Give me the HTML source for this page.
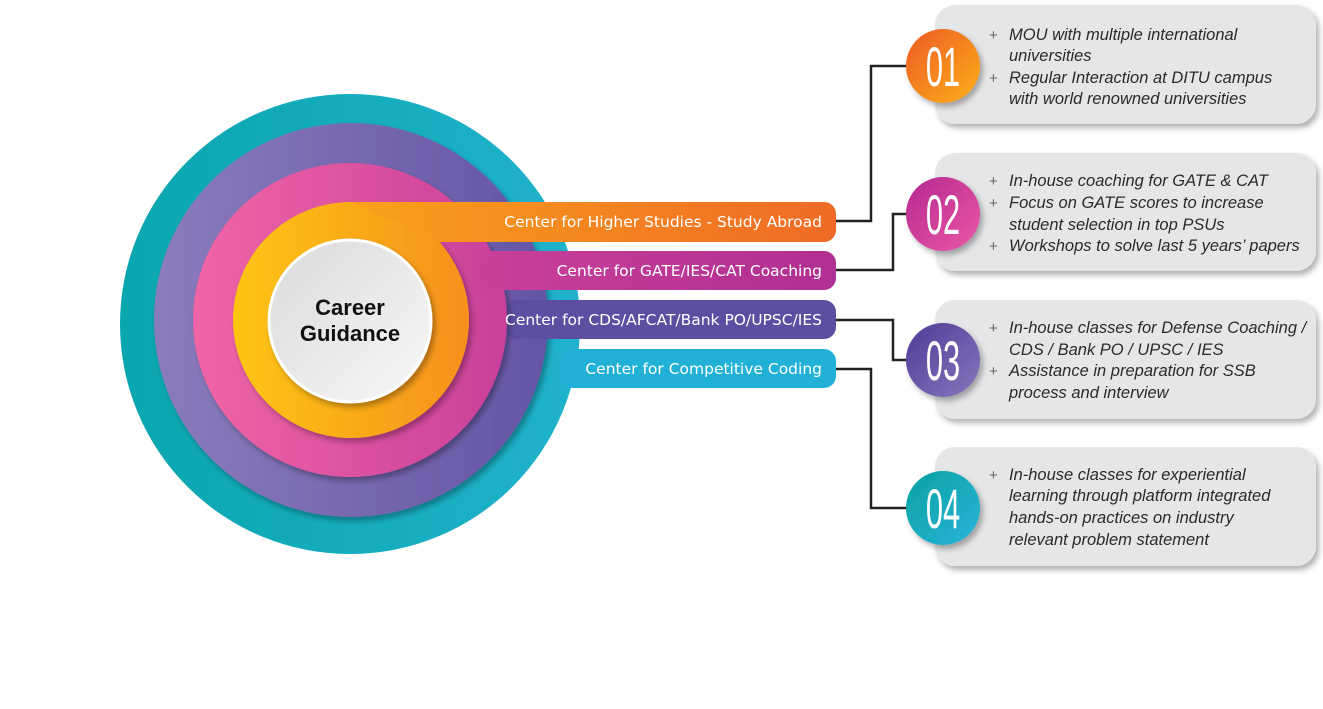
<!DOCTYPE html>
<html><head><meta charset="utf-8"><style>
html,body{margin:0;padding:0;background:#fff;width:1323px;height:709px;overflow:hidden}
svg{display:block}
.bar{font-family:"DejaVu Sans","Liberation Sans",sans-serif;font-size:15.5px;fill:#fff}
.it{font-family:"Liberation Sans",sans-serif;font-style:italic;font-size:16.5px;fill:#2a2a2a}
.pl{font-family:"Liberation Sans",sans-serif;font-size:15px;fill:#666}
.num{font-family:"Liberation Sans",sans-serif;font-size:56px;fill:#fff}
</style></head><body>
<svg width="1323" height="709" viewBox="0 0 1323 709" xmlns="http://www.w3.org/2000/svg">
<defs>
<linearGradient id="gt" x1="0" x2="1"><stop offset="0" stop-color="#0aa6ae"/><stop offset="1" stop-color="#20b2cc"/></linearGradient>
<linearGradient id="gp" x1="0" x2="1"><stop offset="0" stop-color="#8a7cbc"/><stop offset="1" stop-color="#6455a6"/></linearGradient>
<linearGradient id="gk" x1="0" x2="1"><stop offset="0" stop-color="#f065a6"/><stop offset="1" stop-color="#c9409a"/></linearGradient>
<linearGradient id="go" x1="0" x2="1"><stop offset="0" stop-color="#fdc611"/><stop offset="1" stop-color="#f7901e"/></linearGradient>
<linearGradient id="gob" x1="0" x2="1"><stop offset="0" stop-color="#f9a11b"/><stop offset="1" stop-color="#ef6a26"/></linearGradient>
<linearGradient id="gkb" x1="0" x2="1"><stop offset="0" stop-color="#c9409a"/><stop offset="1" stop-color="#b02f92"/></linearGradient>
<linearGradient id="gw" x1="0" y1="0" x2="1" y2="1"><stop offset="0" stop-color="#d9dadc"/><stop offset="1" stop-color="#f8f8f8"/></linearGradient>
<linearGradient id="c1" x1="0" y1="0" x2="1" y2="1"><stop offset="0" stop-color="#ee5a24"/><stop offset="1" stop-color="#fbb01a"/></linearGradient>
<linearGradient id="c2" x1="0" y1="0" x2="1" y2="1"><stop offset="0" stop-color="#b5278f"/><stop offset="1" stop-color="#ea5aa6"/></linearGradient>
<linearGradient id="c3" x1="0" y1="0" x2="1" y2="1"><stop offset="0" stop-color="#4f3b96"/><stop offset="1" stop-color="#8677bd"/></linearGradient>
<linearGradient id="c4" x1="0" y1="0" x2="1" y2="1"><stop offset="0" stop-color="#09a2a0"/><stop offset="1" stop-color="#2ab4dc"/></linearGradient>
<filter id="sh" x="-20%" y="-20%" width="140%" height="140%"><feDropShadow dx="3" dy="4" stdDeviation="3" flood-color="#000" flood-opacity="0.3"/></filter>
</defs>
<circle cx="350" cy="324" r="230" fill="url(#gt)"/>
<rect x="560" y="349" width="276" height="39" rx="12" fill="#22b1d6"/>
<circle cx="351" cy="320" r="197" fill="url(#gp)" filter="url(#sh)"/>
<rect x="505" y="300" width="331" height="39" rx="12" fill="#5e4ea1"/>
<circle cx="350" cy="320" r="157" fill="url(#gk)" filter="url(#sh)"/>
<rect x="480" y="251" width="356" height="39" rx="12" fill="url(#gkb)"/>
<circle cx="351" cy="320" r="118" fill="url(#go)" filter="url(#sh)"/>
<path d="M351 202 H824 a12 12 0 0 1 12 12 v16 a12 12 0 0 1 -12 12 H440 Z" fill="url(#gob)"/>
<circle cx="350" cy="321" r="81" fill="url(#gw)" stroke="#fff" stroke-width="3" filter="url(#sh)"/>
<text x="350" y="315" text-anchor="middle" font-family="Liberation Sans,sans-serif" font-weight="bold" font-size="22" fill="#111">Career</text>
<text x="350" y="341" text-anchor="middle" font-family="Liberation Sans,sans-serif" font-weight="bold" font-size="22" fill="#111">Guidance</text>
<text class="bar" x="822" y="227" text-anchor="end">Center for Higher Studies - Study Abroad</text>
<text class="bar" x="822" y="276" text-anchor="end">Center for GATE/IES/CAT Coaching</text>
<text class="bar" x="822" y="325" text-anchor="end">Center for CDS/AFCAT/Bank PO/UPSC/IES</text>
<text class="bar" x="822" y="374" text-anchor="end">Center for Competitive Coding</text>
<g fill="none" stroke="#222" stroke-width="2.5">
<polyline points="836,221 871,221 871,66 910,66"/>
<polyline points="836,270 893,270 893,214 910,214"/>
<polyline points="836,320 893,320 893,360 910,360"/>
<polyline points="836,369 871,369 871,508 910,508"/>
</g>
<g fill="#e5e6e8" filter="url(#sh)">
<rect x="935" y="5" width="381" height="119" rx="20"/>
<rect x="935" y="153" width="381" height="118" rx="20"/>
<rect x="935" y="300" width="381" height="119" rx="20"/>
<rect x="935" y="447" width="381" height="119" rx="20"/>
</g>
<g filter="url(#sh)">
<circle cx="943" cy="66" r="37" fill="url(#c1)"/>
<circle cx="943" cy="214" r="37" fill="url(#c2)"/>
<circle cx="943" cy="360" r="37" fill="url(#c3)"/>
<circle cx="943" cy="508" r="37" fill="url(#c4)"/>
</g>
<g class="num" text-anchor="middle">
<text x="0" y="0" transform="translate(943 86) scale(0.55 1)">01</text>
<text x="0" y="0" transform="translate(943 234) scale(0.55 1)">02</text>
<text x="0" y="0" transform="translate(943 380) scale(0.55 1)">03</text>
<text x="0" y="0" transform="translate(943 528) scale(0.55 1)">04</text>
</g>
<g class="pl">
<text x="989" y="40">+</text><text x="989" y="83">+</text>
<text x="989" y="186">+</text><text x="989" y="208">+</text><text x="989" y="251">+</text>
<text x="989" y="333">+</text><text x="989" y="376">+</text>
<text x="989" y="480">+</text>
</g>
<g class="it">
<text x="1009" y="40">MOU with multiple international</text>
<text x="1009" y="61">universities</text>
<text x="1009" y="83">Regular Interaction at DITU campus</text>
<text x="1009" y="104">with world renowned universities</text>
<text x="1009" y="186">In-house coaching for GATE &amp; CAT</text>
<text x="1009" y="208">Focus on GATE scores to increase</text>
<text x="1009" y="230">student selection in top PSUs</text>
<text x="1009" y="251">Workshops to solve last 5 years’ papers</text>
<text x="1009" y="333">In-house classes for Defense Coaching /</text>
<text x="1009" y="355">CDS / Bank PO / UPSC / IES</text>
<text x="1009" y="376">Assistance in preparation for SSB</text>
<text x="1009" y="398">process and interview</text>
<text x="1009" y="480">In-house classes for experiential</text>
<text x="1009" y="501">learning through platform integrated</text>
<text x="1009" y="523">hands-on practices on industry</text>
<text x="1009" y="545">relevant problem statement</text>
</g>
</svg>
</body></html>
